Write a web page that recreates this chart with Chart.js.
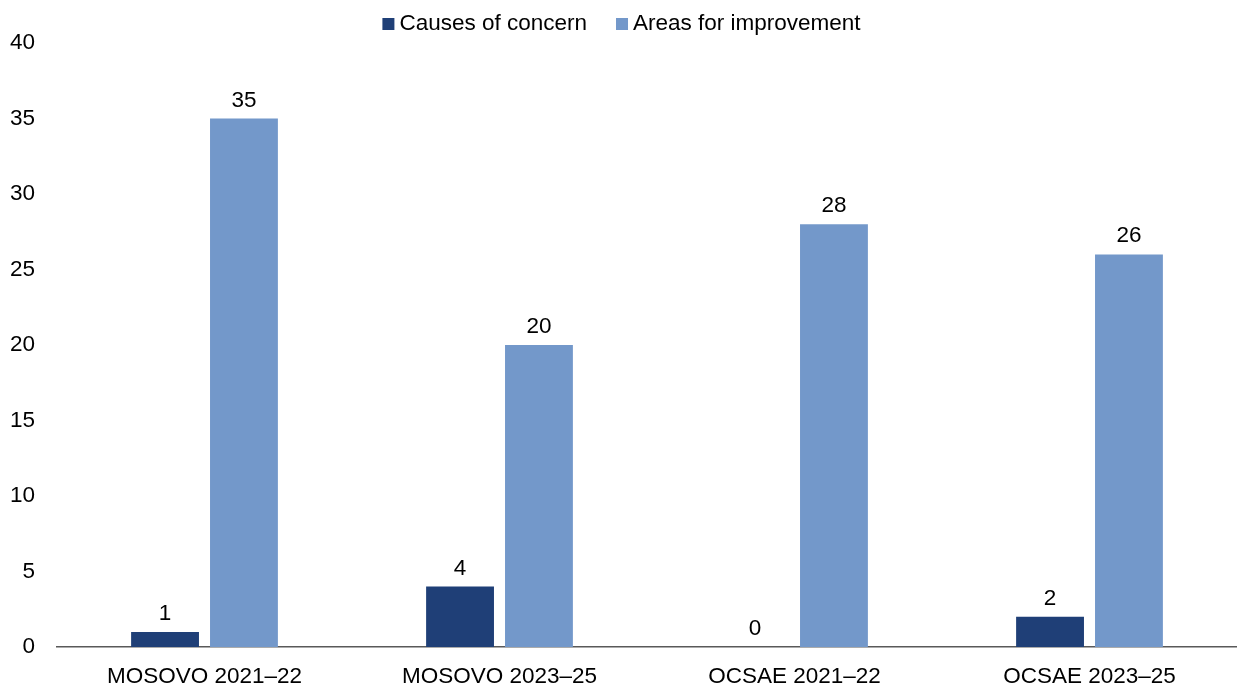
<!DOCTYPE html>
<html>
<head>
<meta charset="utf-8">
<script src="https://cdn.jsdelivr.net/npm/chart.js@4"></script>
<style>
  html, body { margin: 0; padding: 0; background: #fff; }
  #wrap { width: 1237px; height: 689px; position: relative; }
</style>
</head>
<body>
<div id="wrap"><canvas id="reviewChart"></canvas></div>
<script>
const categories = ['MOSOVO 2021–22', 'MOSOVO 2023–25', 'OCSAE 2021–22', 'OCSAE 2023–25'];
const causesOfConcern = [1, 4, 0, 2];
const areasForImprovement = [35, 20, 28, 26];
const yTicks = [0, 5, 10, 15, 20, 25, 30, 35, 40];

const FONT = '"Liberation Sans", Arial, sans-serif';
Chart.defaults.font.family = FONT;
Chart.defaults.color = '#000';

// value labels above each bar
const valueLabels = {
    id: 'valueLabels',
    afterDatasetsDraw(chart) {
        const c = chart.ctx;
        c.save();
        c.font = '22.5px ' + FONT;
        c.fillStyle = '#000';
        c.textAlign = 'center';
        c.textBaseline = 'alphabetic';
        chart.data.datasets.forEach((ds, i) => {
            chart.getDatasetMeta(i).data.forEach((bar, j) => {
                c.fillText(ds.data[j], bar.x, bar.y - 12);
            });
        });
        c.restore();
    }
};

// legend drawn by hand so the box/text spacing matches
const topLegend = {
    id: 'topLegend',
    afterDraw(chart) {
        const c = chart.ctx;
        c.save();
        c.font = '22.5px ' + FONT;
        c.textBaseline = 'alphabetic';
        c.textAlign = 'left';
        const box = 12, gap = 5, spacing = 29;
        const items = chart.data.datasets.map(ds => ({ text: ds.label, color: ds.backgroundColor, w: c.measureText(ds.label).width }));
        let total = items.reduce((s, it) => s + box + gap + it.w, 0) + spacing * (items.length - 1);
        let x = (chart.width - total) / 2 + 3;
        items.forEach(it => {
            c.fillStyle = it.color;
            c.fillRect(x, 18, box, box);
            c.fillStyle = '#000';
            c.fillText(it.text, x + box + gap, 30);
            x += box + gap + it.w + spacing;
        });
        c.restore();
    }
};

const ctx = document.getElementById('reviewChart').getContext('2d');
const reviewChart = new Chart(ctx, {
    type: 'bar',
    data: {
        labels: categories,
        datasets: [{
            label: 'Causes of concern',
            data: causesOfConcern,
            backgroundColor: '#1f3f77',
            categoryPercentage: 0.535,
            barPercentage: 0.86
        }, {
            label: 'Areas for improvement',
            data: areasForImprovement,
            backgroundColor: '#7398ca',
            categoryPercentage: 0.535,
            barPercentage: 0.86
        }]
    },
    options: {
        responsive: true,
        maintainAspectRatio: false,
        animation: false,
        layout: { padding: { top: 43, right: 0, left: 0, bottom: 0 } },
        plugins: {
            legend: { display: false },
            tooltip: { enabled: false }
        },
        scales: {
            x: {
                afterFit: axis => { axis.height = 42; },
                grid: { display: false, drawTicks: false },
                border: { display: true, color: '#595959', width: 1.5 },
                ticks: { font: { size: 22.5 }, padding: 16 }
            },
            y: {
                min: 0,
                max: 40,
                afterBuildTicks: axis => { axis.ticks = yTicks.map(v => ({ value: v })); },
                afterFit: axis => { axis.width = 57; },
                grid: { display: false, drawTicks: false },
                border: { display: false },
                ticks: { font: { size: 22.5 }, padding: 22 }
            }
        }
    },
    plugins: [valueLabels, topLegend]
});
</script>
</body>
</html>
